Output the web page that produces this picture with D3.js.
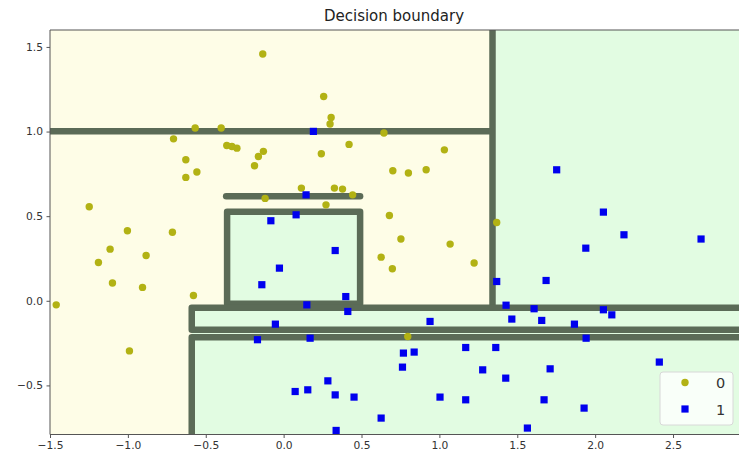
<!DOCTYPE html>
<html>
<head>
<meta charset="utf-8">
<script src="https://cdn.jsdelivr.net/npm/d3@7"></script>
<style>
  html, body { margin: 0; padding: 0; background: #ffffff; }
  svg { display: block; font-family: "DejaVu Sans", sans-serif; }
</style>
</head>
<body>
<svg id="chart" width="739" height="462"></svg>
<script>
// Axis ticks
const xTicks = [-1.5, -1.0, -0.5, 0.0, 0.5, 1.0, 1.5, 2.0, 2.5];
const yTicks = [-0.5, 0.0, 0.5, 1.0, 1.5];
const xLimits = [-1.5, 2.93];
const yLimits = [-0.79, 1.6];

// Class 0 samples (x1, x2)
const class0X = [-0.134, -0.568, -0.401, -0.707, -0.365, -0.332, -0.300, -0.628, -0.557, -0.628,
                 -0.130, -0.162, -0.187, -1.248, -0.119, -1.003, -0.714, 0.257, 0.305, 0.298,
                 0.644, 0.420, 0.242, 1.032, 0.701, 0.801, 0.915, 0.114, 0.326, 0.378,
                 0.443, 0.272, 0.679, 1.368, 0.753, 1.069, 0.626, 0.698, 1.223, 0.797,
                 -1.114, -0.883, -1.189, -1.099, -0.906, -0.579, -1.460, -0.990];
const class0Y = [1.458, 1.021, 1.021, 0.957, 0.918, 0.912, 0.902, 0.833, 0.761, 0.729,
                 0.883, 0.853, 0.798, 0.556, 0.605, 0.414, 0.405, 1.207, 1.083, 1.045,
                 0.991, 0.924, 0.869, 0.892, 0.768, 0.755, 0.774, 0.666, 0.666, 0.660,
                 0.626, 0.567, 0.504, 0.463, 0.365, 0.335, 0.258, 0.189, 0.223, -0.211,
                 0.305, 0.268, 0.226, 0.105, 0.079, 0.031, -0.024, -0.296];

// Class 1 samples (x1, x2)
const class1X = [0.191, 0.144, 0.080, -0.082, 0.331, -0.027, -0.140, 0.399, 0.149, 0.412,
                 -0.053, -0.168, 0.170, 0.284, 0.074, 0.155, 0.331, 0.452, 0.337, 0.940,
                 0.769, 0.838, 0.763, 1.169, 1.362, 1.278, 1.426, 1.004, 1.169, 0.626,
                 1.368, 1.428, 2.185, 2.680, 1.940, 1.685, 1.608, 2.053, 2.107, 1.465,
                 1.657, 1.867, 1.942, 2.412, 1.711, 1.672, 1.929, 1.565, 1.753, 2.053];
const class1Y = [1.001, 0.626, 0.508, 0.473, 0.297, 0.193, 0.095, 0.025, -0.024, -0.063,
                 -0.138, -0.230, -0.221, -0.473, -0.536, -0.526, -0.556, -0.569, -0.766, -0.122,
                 -0.309, -0.303, -0.392, -0.276, -0.276, -0.408, -0.457, -0.569, -0.585, -0.693,
                 0.114, -0.026, 0.390, 0.365, 0.311, 0.120, -0.047, -0.053, -0.083, -0.108,
                 -0.116, -0.138, -0.221, -0.362, -0.402, -0.585, -0.634, -0.752, 0.774, 0.524];

// Leaf regions predicted as class 1 (everything else is class 0)
const class1RegionX0 = [1.341, -0.363, -0.590];
const class1RegionX1 = [2.93, 0.491, 2.93];
const class1RegionY0 = [-0.041, -0.018, -0.79];
const class1RegionY1 = [1.6, 0.526, -0.041];

// Tree split boundaries, as polylines in data units
const boundaryPaths = [
  [[-1.5, 1.002], [1.325, 1.002]],
  [[1.341, 1.6], [1.341, -0.03]],
  [[-0.369, 0.618], [0.491, 0.618]],
  [[-0.363, -0.018], [-0.363, 0.526], [0.491, 0.526], [0.491, -0.018], [-0.363, -0.018]],
  [[2.93, -0.041], [-0.590, -0.041], [-0.590, -0.171], [2.93, -0.171]],
  [[2.93, -0.216], [-0.590, -0.216], [-0.590, -0.79]]
];

const legendLabels = ["0", "1"];

const svg = d3.select("#chart");
const plot = { left: 50, right: 740, top: 30, bottom: 434.5 };

const x = d3.scaleLinear().domain(xLimits).range([plot.left, plot.right]);
const y = d3.scaleLinear().domain(yLimits).range([plot.bottom, plot.top]);

svg.append("defs").append("clipPath").attr("id", "plot-clip")
  .append("rect")
  .attr("x", plot.left).attr("y", plot.top)
  .attr("width", plot.right - plot.left).attr("height", plot.bottom - plot.top);

const g = svg.append("g").attr("clip-path", "url(#plot-clip)");

// Background: class 0 region
g.append("rect")
  .attr("x", x(xLimits[0])).attr("y", y(yLimits[1]))
  .attr("width", x(xLimits[1]) - x(xLimits[0]))
  .attr("height", y(yLimits[0]) - y(yLimits[1]))
  .attr("fill", "#fefde7");

// Class 1 regions
g.selectAll("rect.c1")
  .data(d3.range(class1RegionX0.length))
  .join("rect")
  .attr("class", "c1")
  .attr("x", i => x(class1RegionX0[i]))
  .attr("y", i => y(class1RegionY1[i]))
  .attr("width", i => x(class1RegionX1[i]) - x(class1RegionX0[i]))
  .attr("height", i => y(class1RegionY0[i]) - y(class1RegionY1[i]))
  .attr("fill", "#e2fce2");

// Boundaries
const line = d3.line().x(d => x(d[0])).y(d => y(d[1]));
g.selectAll("path.boundary")
  .data(boundaryPaths)
  .join("path")
  .attr("class", "boundary")
  .attr("d", line)
  .attr("fill", "none")
  .attr("stroke", "#5b6b57")
  .attr("stroke-width", 6.5)
  .attr("stroke-linecap", "round")
  .attr("stroke-linejoin", "round");

// Samples
g.selectAll("circle.c0")
  .data(d3.range(class0X.length))
  .join("circle")
  .attr("class", "c0")
  .attr("cx", i => x(class0X[i]))
  .attr("cy", i => y(class0Y[i]))
  .attr("r", 3.7)
  .attr("fill", "#b2b214");

const sq = 7.2;
g.selectAll("rect.c1pt")
  .data(d3.range(class1X.length))
  .join("rect")
  .attr("class", "c1pt")
  .attr("x", i => x(class1X[i]) - sq / 2)
  .attr("y", i => y(class1Y[i]) - sq / 2)
  .attr("width", sq).attr("height", sq)
  .attr("fill", "#0000ee");

// Axes
const fmt = d => d3.format(".1f")(d).replace("-", "\u2212");
const xAxis = svg.append("g")
  .attr("transform", `translate(0,${plot.bottom})`)
  .call(d3.axisBottom(x).tickValues(xTicks).tickFormat(fmt).tickSize(3.5).tickPadding(3.5));
const yAxis = svg.append("g")
  .attr("transform", `translate(${plot.left},0)`)
  .call(d3.axisLeft(y).tickValues(yTicks).tickFormat(fmt).tickSize(3.5).tickPadding(3.5));

[xAxis, yAxis].forEach(a => {
  a.select(".domain").remove();
  a.selectAll("line").attr("stroke", "#555");
  a.selectAll("text")
    .attr("fill", "#333")
    .style("font-size", "10.7px")
    .style("font-family", "DejaVu Sans, sans-serif");
});

// Spines
svg.append("path")
  .attr("d", `M${plot.left},${plot.bottom}V${plot.top}H${plot.right}M${plot.left},${plot.bottom}H${plot.right}`)
  .attr("fill", "none")
  .attr("stroke", "#555")
  .attr("stroke-width", 1);

// Title
svg.append("text")
  .attr("x", (plot.left + plot.right) / 2 - 1)
  .attr("y", 21)
  .attr("text-anchor", "middle")
  .style("font-size", "15px")
  .attr("fill", "#222")
  .text("Decision boundary");

// Legend
const lg = svg.append("g");
lg.append("rect")
  .attr("x", 660).attr("y", 372).attr("width", 73).attr("height", 53)
  .attr("rx", 3)
  .attr("fill", "#ffffff").attr("fill-opacity", 0.8)
  .attr("stroke", "#d8d8d8");
lg.append("circle").attr("cx", 685).attr("cy", 382.5).attr("r", 3.7).attr("fill", "#b2b214");
lg.append("rect").attr("x", 685 - sq / 2).attr("y", 409 - sq / 2)
  .attr("width", sq).attr("height", sq).attr("fill", "#0000ee");
lg.selectAll("text")
  .data(legendLabels)
  .join("text")
  .attr("x", 716)
  .attr("y", (d, i) => 388 + i * 26.5)
  .style("font-size", "14.5px")
  .attr("fill", "#333")
  .text(d => d);
</script>
</body>
</html>
